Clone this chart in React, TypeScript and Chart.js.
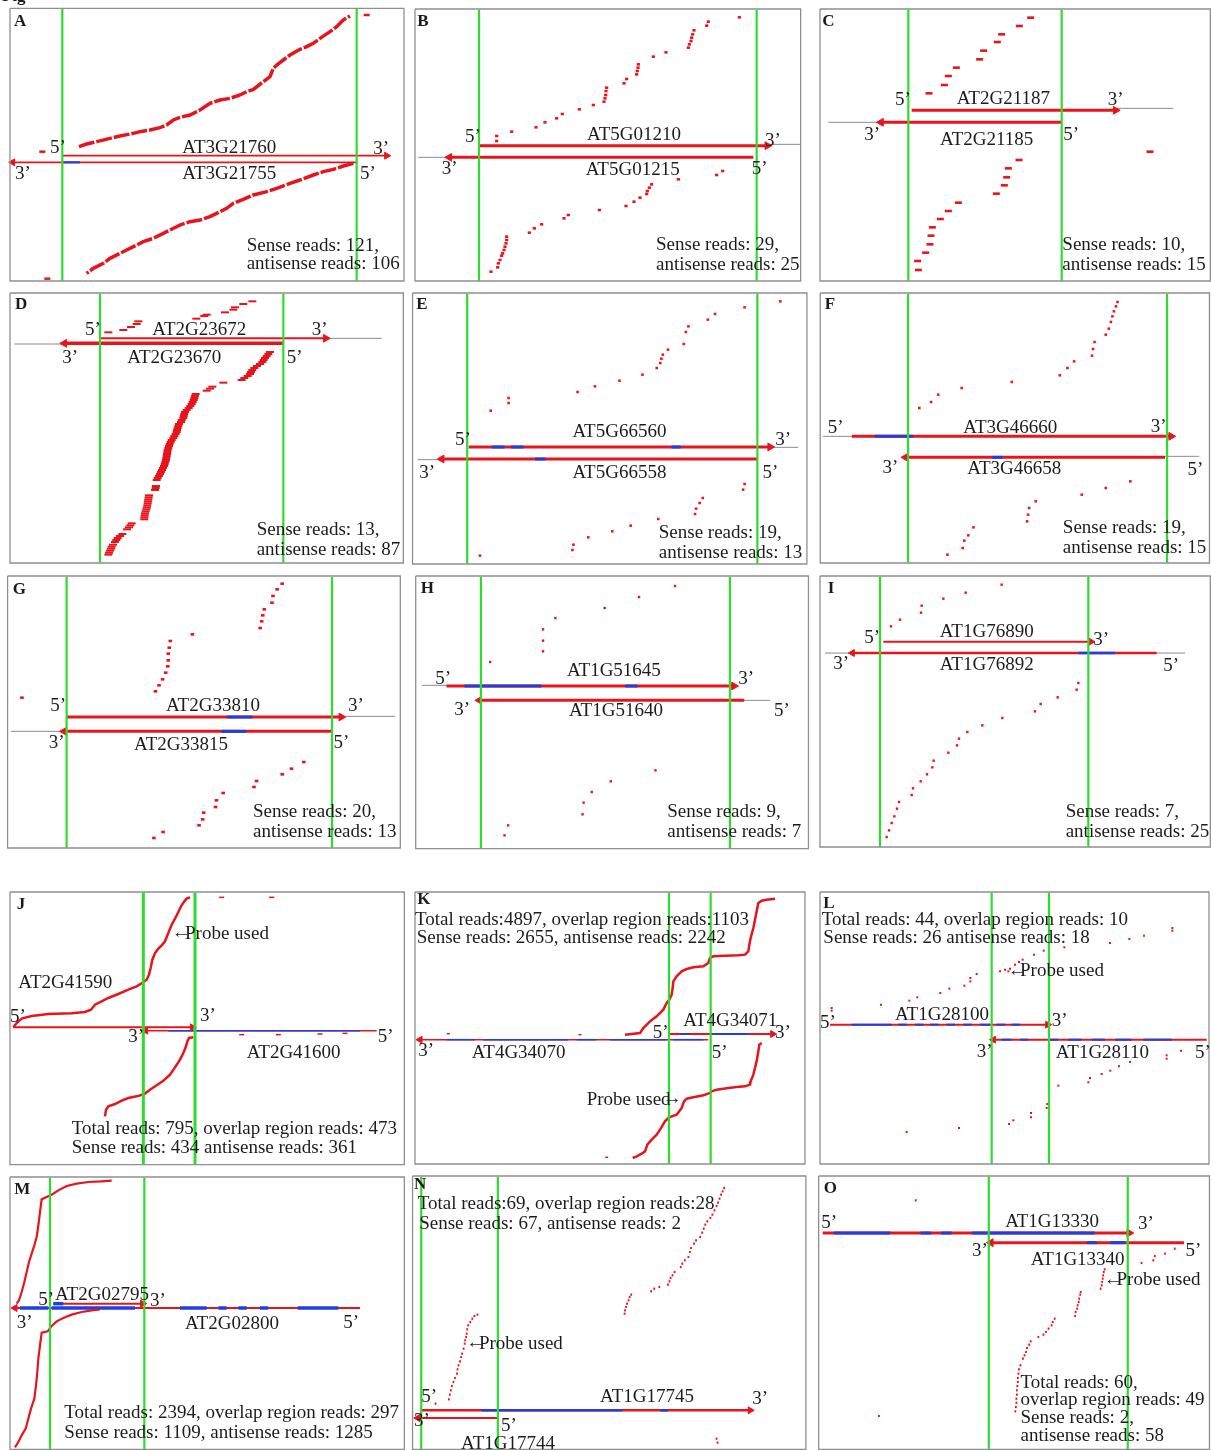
import React, { useEffect, useRef } from 'react';
import { Chart, registerables } from 'chart.js';
Chart.register(...registerables);

type P = { x: number; y: number };
type Gene = { name: string; start: number; end: number; track: number; blue: number[][] };
type Label = { t: string; x: number; y: number; align?: CanvasTextAlign; bold?: boolean; size?: number };

const RED = '#e8141c';
const BLUE = '#1f3fe0';
const GREEN = '#2edc2e';
const GRAY = '#8c8c8c';
const FRAME = '#8f8f8f';
const INK = '#1c1c1c';
const FS = 19;

// ---------------- DATA (read positions: x = relative genomic position, y = read rank) ----------------
const A_SENSE: P[] = [{x:237,y:440},{x:260,y:432},{x:290,y:425},{x:330,y:415},{x:360,y:408},{x:400,y:400},{x:420,y:395},{x:450,y:390},{x:480,y:383},{x:500,y:375},{x:520,y:360},{x:540,y:352},{x:570,y:345},{x:600,y:330},{x:630,y:310},{x:660,y:300},{x:690,y:295},{x:720,y:285},{x:740,y:275},{x:760,y:268},{x:790,y:245},{x:810,y:230},{x:820,y:205},{x:830,y:195},{x:850,y:180},{x:870,y:165},{x:900,y:148},{x:920,y:140},{x:940,y:130},{x:960,y:115},{x:990,y:95},{x:1010,y:80},{x:1030,y:60},{x:1050,y:48}];
const A_ANTISENSE: P[] = [{x:1060,y:490},{x:1030,y:498},{x:1000,y:508},{x:970,y:515},{x:940,y:525},{x:900,y:540},{x:870,y:550},{x:830,y:565},{x:800,y:575},{x:760,y:585},{x:730,y:598},{x:700,y:610},{x:680,y:625},{x:650,y:640},{x:630,y:650},{x:600,y:660},{x:570,y:665},{x:540,y:675},{x:510,y:690},{x:490,y:700},{x:460,y:715},{x:430,y:725},{x:400,y:740},{x:380,y:750},{x:360,y:760},{x:330,y:775},{x:310,y:790},{x:280,y:805},{x:260,y:820}];
const A_SINGLE: P[] = [{x:127,y:455},{x:1100,y:45},{x:142,y:836}];
const A_GENES: Gene[] = [
  { name: 'AT3G21760', start: 187, end: 1160, track: 467, blue: [] },
  { name: 'AT3G21755', start: 1070, end: 38, track: 487, blue: [[190, 240]] },
];
const A_OVERLAP = [187, 1070];

const B_SENSE: P[] = [{x:260,y:393},{x:260,y:408},{x:305,y:380},{x:378,y:367},{x:405,y:352},{x:440,y:340},{x:457,y:327},{x:508,y:313},{x:550,y:300},{x:582,y:290},{x:585,y:280},{x:587,y:270},{x:588,y:258},{x:590,y:248},{x:642,y:235},{x:650,y:222},{x:680,y:208},{x:682,y:198},{x:684,y:188},{x:685,y:178},{x:730,y:155},{x:768,y:142},{x:835,y:128},{x:838,y:118},{x:843,y:108},{x:845,y:98},{x:848,y:88},{x:852,y:76},{x:890,y:62},{x:895,y:50},{x:988,y:37}];
const B_ANTISENSE: P[] = [{x:920,y:510},{x:938,y:498},{x:805,y:523},{x:725,y:538},{x:718,y:548},{x:712,y:558},{x:710,y:567},{x:690,y:578},{x:672,y:590},{x:648,y:603},{x:568,y:615},{x:475,y:630},{x:462,y:640},{x:395,y:658},{x:373,y:670},{x:358,y:683},{x:290,y:695},{x:290,y:705},{x:288,y:715},{x:285,y:725},{x:282,y:735},{x:278,y:745},{x:275,y:752},{x:270,y:765},{x:265,y:775},{x:263,y:787},{x:243,y:800}];
const B_GENES: Gene[] = [
  { name: 'AT5G01210', start: 207, end: 1072, track: 422, blue: [] },
  { name: 'AT5G01215', start: 1030, end: 118, track: 457, blue: [] },
];
const B_OVERLAP = [207, 1040];

const C_SENSE: P[] = [{x:342,y:265},{x:388,y:240},{x:400,y:213},{x:424,y:188},{x:494,y:163},{x:506,y:137},{x:547,y:111},{x:560,y:88},{x:613,y:63},{x:647,y:38}];
const C_ANTISENSE: P[] = [{x:612,y:465},{x:580,y:490},{x:575,y:517},{x:568,y:541},{x:544,y:566},{x:430,y:593},{x:400,y:618},{x:376,y:642},{x:352,y:667},{x:348,y:692},{x:345,y:718},{x:332,y:743},{x:308,y:768},{x:310,y:795},{x:1005,y:440}];
const C_GENES: Gene[] = [
  { name: 'AT2G21187', start: 290, end: 902, track: 316, blue: [] },
  { name: 'AT2G21185', start: 740, end: 198, track: 352, blue: [] },
];
const C_OVERLAP = [280, 740];

const D_SENSE: P[] = [{x:310,y:133},{x:355,y:126},{x:378,y:117},{x:395,y:108},{x:400,y:100},{x:574,y:92},{x:598,y:84},{x:605,y:80},{x:660,y:73},{x:685,y:65},{x:690,y:58},{x:715,y:48},{x:742,y:40}];
const D_ANTISENSE: P[] = [{x:795,y:192},{x:790,y:198},{x:785,y:204},{x:780,y:210},{x:776,y:216},{x:772,y:222},{x:765,y:228},{x:756,y:234},{x:748,y:240},{x:742,y:246},{x:738,y:252},{x:735,y:258},{x:728,y:264},{x:718,y:270},{x:710,y:276},{x:655,y:284},{x:622,y:296},{x:615,y:302},{x:605,y:308},{x:572,y:318},{x:570,y:324},{x:568,y:330},{x:566,y:336},{x:563,y:342},{x:560,y:348},{x:556,y:354},{x:551,y:360},{x:545,y:366},{x:540,y:372},{x:538,y:378},{x:536,y:384},{x:535,y:390},{x:530,y:396},{x:528,y:402},{x:522,y:408},{x:520,y:414},{x:518,y:420},{x:516,y:426},{x:515,y:432},{x:512,y:438},{x:508,y:444},{x:505,y:450},{x:500,y:456},{x:497,y:462},{x:494,y:468},{x:492,y:474},{x:490,y:480},{x:488,y:486},{x:487,y:492},{x:486,y:498},{x:485,y:504},{x:484,y:510},{x:483,y:516},{x:481,y:522},{x:479,y:528},{x:477,y:534},{x:474,y:540},{x:471,y:546},{x:468,y:552},{x:465,y:558},{x:462,y:564},{x:458,y:570},{x:455,y:576},{x:453,y:594},{x:452,y:600},{x:450,y:606},{x:432,y:622},{x:431,y:628},{x:430,y:634},{x:429,y:640},{x:428,y:646},{x:427,y:652},{x:426,y:658},{x:424,y:664},{x:422,y:670},{x:420,y:676},{x:419,y:682},{x:418,y:688},{x:418,y:694},{x:380,y:706},{x:376,y:712},{x:372,y:718},{x:366,y:724},{x:352,y:738},{x:345,y:744},{x:338,y:750},{x:334,y:756},{x:330,y:762},{x:324,y:770},{x:320,y:776},{x:318,y:782},{x:315,y:788},{x:312,y:794},{x:310,y:800}];
const D_GENES: Gene[] = [
  { name: 'AT2G23672', start: 285, end: 962, track: 151, blue: [] },
  { name: 'AT2G23670', start: 835, end: 178, track: 166, blue: [] },
];
const D_OVERLAP = [285, 835];

const E_SENSE: P[] = [{x:158,y:368},{x:193,y:345},{x:193,y:330},{x:328,y:312},{x:362,y:295},{x:410,y:278},{x:455,y:260},{x:483,y:240},{x:490,y:225},{x:492,y:212},{x:495,y:200},{x:505,y:185},{x:536,y:168},{x:540,y:132},{x:545,y:115},{x:583,y:95},{x:597,y:78},{x:655,y:58},{x:725,y:40}];
const E_ANTISENSE: P[] = [{x:137,y:803},{x:318,y:786},{x:320,y:770},{x:349,y:748},{x:396,y:730},{x:432,y:713},{x:486,y:693},{x:558,y:678},{x:560,y:662},{x:567,y:645},{x:573,y:630},{x:652,y:605},{x:655,y:588}];
const E_GENES: Gene[] = [
  { name: 'AT5G66560', start: 115, end: 705, track: 477, blue: [[160, 185], [198, 222], [512, 530]] },
  { name: 'AT5G66558', start: 680, end: 62, track: 513, blue: [[245, 265]] },
];
const E_OVERLAP = [112, 680];

const F_SENSE: P[] = [{x:997,y:360},{x:1020,y:342},{x:1034,y:320},{x:1080,y:300},{x:1178,y:282},{x:1272,y:262},{x:1287,y:240},{x:1300,y:220},{x:1335,y:203},{x:1337,y:183},{x:1340,y:162},{x:1362,y:140},{x:1368,y:122},{x:1372,y:102},{x:1375,y:85},{x:1378,y:70},{x:1382,y:55},{x:1385,y:42}];
const F_ANTISENSE: P[] = [{x:1052,y:800},{x:1082,y:780},{x:1085,y:758},{x:1093,y:742},{x:1103,y:718},{x:1208,y:700},{x:1210,y:680},{x:1212,y:660},{x:1225,y:640},{x:1315,y:620},{x:1362,y:600},{x:1410,y:580}];
const F_GENES: Gene[] = [
  { name: 'AT3G46660', start: 865, end: 1490, track: 445, blue: [[910, 985]] },
  { name: 'AT3G46658', start: 1478, end: 970, track: 508, blue: [[1140, 1160]] },
];
const F_OVERLAP = [975, 1482];

const G_SENSE: P[] = [{x:33,y:377},{x:293,y:358},{x:300,y:340},{x:307,y:322},{x:313,y:302},{x:317,y:283},{x:318,y:265},{x:318,y:245},{x:320,y:227},{x:322,y:207},{x:365,y:187},{x:497,y:168},{x:500,y:148},{x:502,y:130},{x:505,y:112},{x:520,y:92},{x:522,y:72},{x:530,y:52},{x:540,y:35}];
const G_ANTISENSE: P[] = [{x:290,y:798},{x:308,y:780},{x:378,y:760},{x:385,y:742},{x:387,y:722},{x:410,y:705},{x:412,y:685},{x:425,y:663},{x:485,y:645},{x:490,y:627},{x:540,y:607},{x:558,y:590},{x:582,y:570}];
const G_GENES: Gene[] = [
  { name: 'AT2G33810', start: 120, end: 655, track: 435, blue: [[432, 482]] },
  { name: 'AT2G33815', start: 637, end: 115, track: 478, blue: [[422, 470]] },
];
const G_OVERLAP = [120, 637];

const H_SENSE: P[] = [{x:945,y:270},{x:1048,y:238},{x:1048,y:206},{x:1048,y:172},{x:1072,y:138},{x:1168,y:108},{x:1235,y:75},{x:1305,y:42}];
const H_ANTISENSE: P[] = [{x:973,y:790},{x:980,y:760},{x:1125,y:727},{x:1127,y:692},{x:1143,y:660},{x:1180,y:628},{x:1267,y:595}];
const H_GENES: Gene[] = [
  { name: 'AT1G51645', start: 860, end: 1420, track: 342, blue: [[895, 1045], [1208, 1232]] },
  { name: 'AT1G51640', start: 1440, end: 924, track: 385, blue: [] },
];
const H_OVERLAP = [927, 1412];

const I_SENSE: P[] = [{x:228,y:163},{x:255,y:143},{x:318,y:122},{x:320,y:101},{x:385,y:80},{x:452,y:62},{x:560,y:38}];
const I_ANTISENSE: P[] = [{x:790,y:333},{x:785,y:353},{x:728,y:376},{x:677,y:396},{x:660,y:418},{x:562,y:438},{x:502,y:460},{x:457,y:480},{x:432,y:500},{x:426,y:520},{x:400,y:542},{x:356,y:566},{x:352,y:586},{x:336,y:607},{x:317,y:628},{x:294,y:649},{x:290,y:669},{x:252,y:690},{x:246,y:710},{x:238,y:733},{x:230,y:753},{x:222,y:775},{x:215,y:795}];
const I_GENES: Gene[] = [
  { name: 'AT1G76890', start: 205, end: 828, track: 209, blue: [] },
  { name: 'AT1G76892', start: 1025, end: 112, track: 243, blue: [[790, 900]] },
];
const I_OVERLAP = [195, 820];

const J_SENSE: P[] = [{x:25,y:418},{x:35,y:405},{x:50,y:392},{x:80,y:384},{x:130,y:378},{x:200,y:376},{x:240,y:372},{x:258,y:365},{x:270,y:350},{x:290,y:340},{x:310,y:330},{x:340,y:318},{x:370,y:305},{x:395,y:295},{x:415,y:283},{x:425,y:275},{x:432,y:260},{x:437,y:240},{x:442,y:215},{x:450,y:195},{x:460,y:182},{x:470,y:172},{x:480,y:160},{x:490,y:135},{x:500,y:110},{x:510,y:92},{x:520,y:72},{x:528,y:55},{x:538,y:40},{x:545,y:32},{x:555,y:28}];
const J_ANTISENSE: P[] = [{x:565,y:448},{x:552,y:450},{x:547,y:460},{x:542,y:478},{x:535,y:495},{x:525,y:515},{x:512,y:535},{x:495,y:560},{x:475,y:578},{x:455,y:592},{x:435,y:605},{x:418,y:618},{x:395,y:625},{x:370,y:630},{x:350,y:638},{x:330,y:648},{x:310,y:655},{x:303,y:665},{x:300,y:685}];
const J_SINGLE: P[] = [{x:650,y:28},{x:800,y:28},{x:710,y:440},{x:820,y:440},{x:945,y:438},{x:1020,y:436}];
const J_GENES: Gene[] = [
  { name: 'AT2G41590', start: 25, end: 562, track: 418, blue: [] },
  { name: 'AT2G41600', start: 1115, end: 422, track: 428, blue: [[490, 1065]] },
];
const J_OVERLAP = [415, 570];

const K_SENSE: P[] = [{x:645,y:440},{x:690,y:435},{x:700,y:420},{x:720,y:400},{x:740,y:385},{x:760,y:365},{x:770,y:345},{x:778,y:335},{x:785,y:320},{x:788,y:300},{x:790,y:280},{x:800,y:265},{x:815,y:250},{x:830,y:243},{x:850,y:238},{x:880,y:235},{x:895,y:225},{x:900,y:210},{x:910,y:205},{x:945,y:203},{x:985,y:202},{x:1005,y:200},{x:1015,y:190},{x:1018,y:170},{x:1022,y:150},{x:1030,y:120},{x:1035,y:95},{x:1040,y:70},{x:1045,y:45},{x:1055,y:38},{x:1070,y:35},{x:1095,y:32}];
const K_ANTISENSE: P[] = [{x:1055,y:465},{x:1048,y:470},{x:1045,y:490},{x:1040,y:520},{x:1030,y:560},{x:1022,y:580},{x:1020,y:590},{x:1005,y:595},{x:980,y:597},{x:955,y:600},{x:920,y:605},{x:905,y:610},{x:900,y:615},{x:880,y:622},{x:850,y:628},{x:830,y:632},{x:822,y:640},{x:815,y:660},{x:800,y:680},{x:785,y:685},{x:775,y:690},{x:765,y:700},{x:750,y:725},{x:740,y:740},{x:725,y:755},{x:712,y:770},{x:705,y:790},{x:695,y:797},{x:680,y:805},{x:668,y:810}];
const K_SINGLE: P[] = [{x:115,y:437},{x:510,y:440},{x:590,y:808}];
const K_GENES: Gene[] = [
  { name: 'AT4G34071', start: 780, end: 1088, track: 438, blue: [[810, 840], [905, 1015]] },
  { name: 'AT4G34070', start: 895, end: 30, track: 455, blue: [[110, 195], [220, 475], [500, 560], [600, 770], [790, 880]] },
];
const K_OVERLAP = [777, 902];

const L_SENSE: P[] = [{x:50,y:368},{x:198,y:350},{x:283,y:338},{x:307,y:328},{x:376,y:315},{x:403,y:302},{x:448,y:293},{x:466,y:280},{x:466,y:270},{x:485,y:258},{x:555,y:250},{x:570,y:245},{x:585,y:242},{x:600,y:230},{x:612,y:222},{x:623,y:215},{x:657,y:200},{x:686,y:188},{x:748,y:178},{x:885,y:165},{x:943,y:153},{x:987,y:143},{x:1072,y:128},{x:1072,y:120},{x:580,y:250},{x:50,y:360}];
const L_ANTISENSE: P[] = [{x:1098,y:488},{x:1055,y:502},{x:1055,y:512},{x:945,y:522},{x:912,y:535},{x:886,y:548},{x:860,y:558},{x:825,y:570},{x:820,y:583},{x:730,y:593},{x:697,y:648},{x:695,y:660},{x:648,y:675},{x:648,y:688},{x:595,y:697},{x:582,y:708},{x:432,y:720},{x:275,y:732}];
const L_GENES: Gene[] = [
  { name: 'AT1G28100', start: 45, end: 698, track: 410, blue: [[110, 230], [250, 275], [300, 325], [345, 370], [395, 420], [445, 470], [495, 525], [545, 570], [590, 615]] },
  { name: 'AT1G28110', start: 1175, end: 535, track: 455, blue: [[560, 590], [615, 640], [700, 730], [760, 800], [830, 870], [900, 950], [985, 1070]] },
];
const L_OVERLAP = [530, 702];

const M_SENSE: P[] = [{x:35,y:395},{x:42,y:385},{x:50,y:360},{x:58,y:330},{x:65,y:300},{x:72,y:270},{x:80,y:245},{x:88,y:220},{x:95,y:195},{x:100,y:160},{x:105,y:120},{x:110,y:82},{x:125,y:75},{x:140,y:68},{x:160,y:55},{x:185,y:42},{x:215,y:35},{x:250,y:30},{x:290,y:28},{x:320,y:26}];
const M_ANTISENSE: P[] = [{x:30,y:826},{x:40,y:810},{x:50,y:790},{x:62,y:770},{x:70,y:740},{x:78,y:710},{x:88,y:680},{x:93,y:640},{x:97,y:600},{x:100,y:560},{x:105,y:520},{x:110,y:482},{x:128,y:478},{x:140,y:462},{x:155,y:448},{x:175,y:438},{x:200,y:428},{x:230,y:420},{x:260,y:415},{x:285,y:412}];
const M_GENES: Gene[] = [
  { name: 'AT2G02795', start: 145, end: 413, track: 395, blue: [[145, 175]] },
  { name: 'AT2G02800', start: 1065, end: 30, track: 408, blue: [[45, 130], [140, 390], [525, 605], [640, 665], [700, 725], [765, 790], [878, 1000]] },
];
const M_OVERLAP = [135, 418];

const N_SENSE: P[] = [{x:420,y:425},{x:421,y:415},{x:423,y:405},{x:425,y:395},{x:428,y:385},{x:430,y:375},{x:433,y:368},{x:472,y:358},{x:478,y:350},{x:488,y:345},{x:505,y:338},{x:508,y:328},{x:510,y:318},{x:514,y:310},{x:518,y:300},{x:530,y:285},{x:533,y:275},{x:538,y:265},{x:545,y:255},{x:548,y:240},{x:550,y:228},{x:556,y:215},{x:560,y:205},{x:568,y:195},{x:572,y:182},{x:575,y:170},{x:578,y:158},{x:582,y:148},{x:588,y:138},{x:592,y:128},{x:596,y:115},{x:600,y:102},{x:603,y:92},{x:606,y:80},{x:609,y:68},{x:612,y:58},{x:615,y:48},{x:50,y:695},{x:76,y:682},{x:78,y:668},{x:80,y:655},{x:82,y:642},{x:85,y:630},{x:88,y:618},{x:92,y:605},{x:93,y:592},{x:95,y:580},{x:98,y:568},{x:100,y:555},{x:102,y:545},{x:105,y:530},{x:107,y:515},{x:108,y:505},{x:110,y:495},{x:111,y:485},{x:112,y:472},{x:114,y:460},{x:118,y:450},{x:122,y:440},{x:126,y:432},{x:132,y:428}];
const N_ANTISENSE: P[] = [{x:600,y:800},{x:602,y:812}];
const N_GENES: Gene[] = [
  { name: 'AT1G17745', start: 22, end: 666, track: 715, blue: [[140, 415], [490, 505]] },
  { name: 'AT1G17744', start: 172, end: 15, track: 738, blue: [] },
];
const N_OVERLAP = [22, 172];

const O_SENSE: P[] = [{x:990,y:85},{x:918,y:732}];
const O_ANTISENSE: P[] = [{x:1185,y:718},{x:1186,y:705},{x:1187,y:692},{x:1187,y:680},{x:1188,y:668},{x:1188,y:655},{x:1189,y:642},{x:1190,y:630},{x:1190,y:618},{x:1191,y:605},{x:1192,y:592},{x:1195,y:580},{x:1200,y:560},{x:1203,y:550},{x:1206,y:540},{x:1208,y:528},{x:1212,y:518},{x:1215,y:508},{x:1230,y:495},{x:1240,y:488},{x:1245,y:480},{x:1250,y:470},{x:1256,y:460},{x:1258,y:450},{x:1262,y:440},{x:1302,y:432},{x:1303,y:420},{x:1306,y:410},{x:1307,y:400},{x:1309,y:390},{x:1310,y:380},{x:1312,y:368},{x:1313,y:360},{x:1352,y:350},{x:1354,y:340},{x:1355,y:330},{x:1356,y:320},{x:1357,y:310},{x:1358,y:300},{x:1360,y:292},{x:1432,y:273},{x:1455,y:265},{x:1458,y:252},{x:1478,y:245},{x:1497,y:230}];
const O_GENES: Gene[] = [
  { name: 'AT1G13330', start: 808, end: 1408, track: 183, blue: [[830, 940], [1000, 1020], [1040, 1060], [1100, 1340]] },
  { name: 'AT1G13340', start: 1515, end: 1137, track: 212, blue: [[1325, 1345], [1370, 1400]] },
];
const O_OVERLAP = [1133, 1405];

// ---------------- LAYOUT ----------------
type ReadSet = { pts: P[]; curve?: boolean };
type Panel = {
  frame: [number, number, number, number];
  overlap: number[];
  genes: Gene[];
  geneW: number[];
  blueW?: number;
  arrow: number;
  flanks: number[][];
  reads: ReadSet[];
  dotR: number;
  dotH: number;
  curveW?: number;
  curveDash?: number[];
  greenW?: number;
  labels: Label[];
};
type Sheet = { left: number; top: number; w: number; h: number; dw: number; dh: number; panels: Panel[] };

const L = (t: string, x: number, y: number, align: CanvasTextAlign = 'left', bold = false, size = FS): Label => ({ t, x, y, align, bold, size });
const TAG = (t: string, x: number, y: number): Label => ({ t, x, y, align: 'left', bold: true, size: 17 });
const Q5 = '5\u2019';
const Q3 = '3\u2019';

const SHEETS: Sheet[] = [
  { left: 0, top: 0, w: 410, h: 285, dw: 1230, dh: 855, panels: [{
    frame: [30, 25, 1212, 843], overlap: A_OVERLAP, genes: A_GENES, geneW: [1.6, 1.6], blueW: 2.2, arrow: 4,
    flanks: [], reads: [{ pts: A_SENSE, curve: true }, { pts: A_ANTISENSE, curve: true }, { pts: A_SINGLE }],
    dotR: 3, dotH: 2.5, curveW: 3.5, curveDash: [16, 2],
    labels: [L('Fig', 6, 2, 'left', true, 17), TAG('A', 42, 78), L(Q5, 150, 460), L(A_GENES[0].name, 688, 460, 'center'), L(Q3, 1120, 462),
      L(Q3, 45, 537), L(A_GENES[1].name, 688, 537, 'center'), L(Q5, 1080, 537), L('Sense reads: 121,', 740, 752), L('antisense reads: 106', 740, 808)],
  }] },
  { left: 410, top: 5, w: 400, h: 280, dw: 1200, dh: 840, panels: [{
    frame: [15, 12, 1172, 828], overlap: B_OVERLAP, genes: B_GENES, geneW: [3, 3], arrow: 4.5,
    flanks: [[1075, 1170, 418], [25, 120, 457]], reads: [{ pts: B_SENSE }, { pts: B_ANTISENSE }], dotR: 1.6, dotH: 2.6,
    labels: [TAG('B', 22, 62), L(Q5, 165, 410), L(B_GENES[0].name, 672, 405, 'center'), L(Q3, 1065, 422),
      L(Q3, 95, 507), L(B_GENES[1].name, 668, 510, 'center'), L(Q5, 1025, 507), L('Sense reads: 29,', 738, 735), L('antisense reads: 25', 738, 795)],
  }] },
  { left: 815, top: 5, w: 396, h: 280, dw: 1188, dh: 840, panels: [{
    frame: [15, 12, 1186, 828], overlap: C_OVERLAP, genes: C_GENES, geneW: [3, 3], arrow: 4.5,
    flanks: [[905, 1075, 310], [40, 200, 352]], reads: [{ pts: C_SENSE }, { pts: C_ANTISENSE }], dotR: 3.5, dotH: 2.6,
    labels: [TAG('C', 22, 62), L(Q5, 240, 300), L(C_GENES[0].name, 565, 298, 'center'), L(Q3, 878, 300),
      L(Q3, 148, 405), L(C_GENES[1].name, 515, 420, 'center'), L(Q5, 745, 405), L('Sense reads: 10,', 742, 735), L('antisense reads: 15', 742, 795)],
  }] },
  { left: 5, top: 288, w: 405, h: 280, dw: 1215, dh: 840, panels: [{
    frame: [15, 15, 1195, 825], overlap: D_OVERLAP, genes: D_GENES, geneW: [2, 3.5], arrow: 4.5,
    flanks: [[960, 1130, 151], [28, 180, 168]], reads: [{ pts: D_SENSE }, { pts: D_ANTISENSE }], dotR: 4, dotH: 2,
    labels: [TAG('D', 30, 62), L(Q5, 240, 140), L(D_GENES[0].name, 583, 140, 'center'), L(Q3, 920, 140),
      L(Q3, 172, 225), L(D_GENES[1].name, 508, 225, 'center'), L(Q5, 845, 225), L('Sense reads: 13,', 755, 740), L('antisense reads: 87', 755, 800)],
  }] },
  { left: 410, top: 288, w: 801, h: 280, dw: 1568, dh: 840, panels: [{
    frame: [5, 15, 777, 828], overlap: E_OVERLAP, genes: E_GENES, geneW: [3, 3], arrow: 4.5,
    flanks: [[705, 760, 478], [15, 65, 515]], reads: [{ pts: E_SENSE }, { pts: E_ANTISENSE }], dotR: 1.3, dotH: 2.5,
    labels: [TAG('E', 12, 62), L(E_GENES[0].name, 410, 447, 'center'), L(Q5, 88, 472), L(Q3, 715, 470),
      L(Q3, 18, 570), L(E_GENES[1].name, 410, 570, 'center'), L(Q5, 690, 570), L('Sense reads: 19,', 487, 750), L('antisense reads: 13', 487, 810)],
  }, {
    frame: [803, 15, 1565, 825], overlap: F_OVERLAP, genes: F_GENES, geneW: [3, 3], arrow: 4.5,
    flanks: [[808, 870, 445], [1478, 1545, 505]], reads: [{ pts: F_SENSE }, { pts: F_ANTISENSE }], dotR: 1.3, dotH: 2.5,
    labels: [TAG('F', 812, 62), L(Q5, 818, 435), L(F_GENES[0].name, 1175, 435, 'center'), L(Q3, 1450, 432),
      L(Q3, 925, 555), L(F_GENES[1].name, 1183, 557, 'center'), L(Q5, 1522, 562), L('Sense reads: 19,', 1278, 735), L('antisense reads: 15', 1278, 795)],
  }] },
  { left: 5, top: 572, w: 805, h: 280, dw: 1568, dh: 840, panels: [{
    frame: [5, 12, 770, 828], overlap: G_OVERLAP, genes: G_GENES, geneW: [3, 3], arrow: 4.5,
    flanks: [[658, 760, 433], [12, 118, 478]], reads: [{ pts: G_SENSE }, { pts: G_ANTISENSE }], dotR: 1.8, dotH: 2.6,
    labels: [TAG('G', 15, 65), L(Q5, 88, 418), L(G_GENES[0].name, 405, 418, 'center'), L(Q3, 668, 418),
      L(Q3, 85, 528), L(G_GENES[1].name, 343, 535, 'center'), L(Q5, 640, 528), L('Sense reads: 20,', 483, 735), L('antisense reads: 13', 483, 795)],
  }, {
    frame: [800, 12, 1565, 830], overlap: H_OVERLAP, genes: H_GENES, geneW: [3, 3], arrow: 4.5,
    flanks: [[812, 862, 340], [1440, 1490, 385]], reads: [{ pts: H_SENSE }, { pts: H_ANTISENSE }], dotR: 1.2, dotH: 2.4,
    labels: [TAG('H', 810, 62), L(Q5, 838, 335), L(H_GENES[0].name, 1186, 312, 'center'), L(Q3, 1428, 335),
      L(Q3, 875, 430), L(H_GENES[1].name, 1190, 432, 'center'), L(Q5, 1498, 432), L('Sense reads: 9,', 1290, 735), L('antisense reads: 7', 1290, 795)],
  }] },
  { left: 815, top: 572, w: 396, h: 280, dw: 1188, dh: 840, panels: [{
    frame: [15, 12, 1186, 825], overlap: I_OVERLAP, genes: I_GENES, geneW: [2, 2.5], arrow: 4,
    flanks: [[30, 1110, 243]], reads: [{ pts: I_SENSE }, { pts: I_ANTISENSE }], dotR: 1.2, dotH: 2.4,
    labels: [TAG('I', 38, 62), L(Q5, 148, 212), L(I_GENES[0].name, 515, 195, 'center'), L(Q3, 835, 218),
      L(Q3, 55, 292), L(I_GENES[1].name, 515, 295, 'center'), L(Q5, 1045, 297), L('Sense reads: 7,', 752, 735), L('antisense reads: 25', 752, 795)],
  }] },
  { left: 5, top: 888, w: 405, h: 282, dw: 1215, dh: 846, panels: [{
    frame: [15, 12, 1198, 830], overlap: J_OVERLAP, genes: J_GENES, geneW: [2, 1.5], blueW: 1.5, arrow: 4,
    flanks: [], reads: [{ pts: J_SENSE, curve: true }, { pts: J_ANTISENSE, curve: true }, { pts: J_SINGLE }],
    dotR: 2.5, dotH: 1.5, curveW: 2.5, greenW: 3,
    labels: [TAG('J', 35, 62), L('\u2190', 500, 150, 'left', true), L('Probe used', 540, 152), L(J_GENES[0].name, 40, 300), L(Q5, 15, 402), L(Q3, 585, 400),
      L(Q3, 370, 462), L(J_GENES[1].name, 725, 510), L(Q5, 1118, 462),
      L('Total reads: 795, overlap region reads: 473', 200, 738), L('Sense reads: 434 antisense reads: 361', 200, 795)],
  }] },
  { left: 410, top: 888, w: 400, h: 282, dw: 1200, dh: 846, panels: [{
    frame: [15, 12, 1185, 828], overlap: K_OVERLAP, genes: K_GENES, geneW: [1.8, 1.5], arrow: 4,
    flanks: [], reads: [{ pts: K_SENSE, curve: true }, { pts: K_ANTISENSE, curve: true }, { pts: K_SINGLE }],
    dotR: 1.5, dotH: 1.5, curveW: 2.5,
    labels: [TAG('K', 22, 47), L('Total reads:4897, overlap region reads:1103', 15, 110), L('Sense reads: 2655, antisense reads: 2242', 20, 165),
      L(K_GENES[0].name, 820, 415), L(Q3, 1095, 450), L(Q5, 728, 450), L(Q3, 25, 505), L(K_GENES[1].name, 185, 510), L(Q5, 905, 510),
      L('Probe used', 530, 650), L('\u2192', 758, 648, 'left', true)],
  }] },
  { left: 815, top: 888, w: 396, h: 282, dw: 1188, dh: 846, panels: [{
    frame: [15, 12, 1182, 828], overlap: L_OVERLAP, genes: L_GENES, geneW: [2, 2], arrow: 4,
    flanks: [], reads: [{ pts: L_SENSE }, { pts: L_ANTISENSE }], dotR: 1, dotH: 2,
    labels: [TAG('L', 25, 60), L('Total reads: 44, overlap region reads: 10', 20, 110), L('Sense reads: 26 antisense reads: 18', 25, 165),
      L('\u2190', 578, 263, 'left', true), L('Probe used', 615, 265), L(Q5, 15, 420), L(L_GENES[0].name, 240, 395), L(Q3, 710, 415), L(Q3, 485, 508),
      L(L_GENES[1].name, 722, 510), L(Q5, 1140, 510)],
  }] },
  { left: 5, top: 1172, w: 405, h: 278, dw: 1215, dh: 834, panels: [{
    frame: [15, 15, 1198, 832], overlap: M_OVERLAP, genes: M_GENES, geneW: [2, 2], blueW: 3.5, arrow: 4,
    flanks: [], reads: [{ pts: M_SENSE, curve: true }, { pts: M_ANTISENSE, curve: true }], dotR: 1, dotH: 2, curveW: 2.2,
    labels: [TAG('M', 28, 65), L(Q5, 100, 398), L(M_GENES[0].name, 150, 385), L(Q3, 435, 402), L(Q3, 35, 468),
      L(M_GENES[1].name, 540, 472), L(Q5, 1015, 468),
      L('Total reads: 2394, overlap region reads: 297', 178, 738), L('Sense reads: 1109, antisense reads: 1285', 178, 798)],
  }] },
  { left: 410, top: 1172, w: 801, h: 278, dw: 1568, dh: 834, panels: [{
    frame: [5, 12, 775, 832], overlap: N_OVERLAP, genes: N_GENES, geneW: [2.5, 2], arrow: 4,
    flanks: [], reads: [{ pts: N_SENSE }, { pts: N_ANTISENSE }], dotR: 0.9, dotH: 2.2,
    labels: [TAG('N', 8, 52), L('Total reads:69, overlap region reads:28', 15, 112), L('Sense reads: 67, antisense reads: 2', 18, 170),
      L('\u2190', 110, 528, 'left', true), L('Probe used', 135, 530), L(Q5, 22, 690), L(N_GENES[0].name, 372, 690), L(Q3, 670, 695), L(Q3, 8, 762),
      L(Q5, 178, 778), L(N_GENES[1].name, 100, 832)],
  }, {
    frame: [800, 12, 1565, 832], overlap: O_OVERLAP, genes: O_GENES, geneW: [3, 3], arrow: 4.5,
    flanks: [], reads: [{ pts: O_SENSE }, { pts: O_ANTISENSE }], dotR: 0.9, dotH: 2.2,
    labels: [TAG('O', 810, 62), L(Q5, 805, 168), L(O_GENES[0].name, 1165, 165), L(Q3, 1425, 172), L(Q3, 1100, 252),
      L(O_GENES[1].name, 1215, 278), L(Q5, 1518, 252), L('\u2190', 1358, 338, 'left', true), L('Probe used', 1383, 340),
      L('Total reads: 60,', 1195, 648), L('overlap region reads: 49', 1195, 700), L('Sense reads: 2,', 1195, 752), L('antisense reads: 58', 1195, 808)],
  }] },
];

function seg(x0: number, x1: number, y: number, color: string, w: number, order: number, dash?: number[]) {
  return { data: [{ x: x0, y }, { x: x1, y }], showLine: true, borderColor: color, borderWidth: w, pointRadius: 0, order, borderDash: dash || [] };
}

function buildDatasets(p: Panel): any[] {
  const ds: any[] = [];
  const [l, t, r, b] = p.frame;
  ds.push({ data: [{ x: l, y: t }, { x: r, y: t }, { x: r, y: b }, { x: l, y: b }, { x: l, y: t }], showLine: true, borderColor: FRAME, borderWidth: 1.3, pointRadius: 0, order: 5 });
  for (const x of p.overlap) ds.push({ data: [{ x, y: t + 2 }, { x, y: b - 1 }], showLine: true, borderColor: GREEN, borderWidth: p.greenW ?? 2.2, pointRadius: 0, order: 10 });
  for (const f of p.flanks) ds.push(seg(f[0], f[1], f[2], GRAY, 1, 40));
  p.genes.forEach((g, i) => {
    const w = p.geneW[i];
    ds.push(seg(g.start, g.end, g.track, RED, w, 30));
    for (const s of g.blue) ds.push(seg(s[0], s[1], g.track, BLUE, p.blueW ?? w, 29));
    ds.push({ data: [{ x: g.end, y: g.track }], pointStyle: 'triangle', pointRotation: g.end > g.start ? 90 : -90, pointRadius: p.arrow,
      pointBackgroundColor: RED, pointBorderColor: RED, pointBorderWidth: 1, order: 28 });
  });
  for (const rd of p.reads) {
    if (rd.curve) ds.push({ data: rd.pts, showLine: true, borderColor: RED, borderWidth: p.curveW ?? 2.5, borderDash: p.curveDash || [], pointRadius: 0, order: 20, tension: 0 });
    else ds.push({ data: rd.pts, showLine: false, pointStyle: 'line', pointRadius: p.dotR, pointBorderWidth: p.dotH, pointBorderColor: RED, pointBackgroundColor: RED, order: 20 });
  }
  return ds;
}

function SheetChart({ sheet }: { sheet: Sheet }) {
  const ref = useRef<HTMLCanvasElement>(null);
  useEffect(() => {
    const labels = sheet.panels.flatMap((p) => p.labels);
    const textPlugin = {
      id: 'panelText',
      afterDatasetsDraw(chart: any) {
        const { ctx } = chart;
        const xs = chart.scales.x;
        const ys = chart.scales.y;
        ctx.save();
        ctx.fillStyle = INK;
        ctx.textBaseline = 'alphabetic';
        for (const lb of labels) {
          ctx.font = `${lb.bold ? 'bold ' : ''}${lb.size}px "Liberation Serif", "Times New Roman", serif`;
          ctx.textAlign = lb.align || 'left';
          ctx.fillText(lb.t, xs.getPixelForValue(lb.x), ys.getPixelForValue(lb.y));
        }
        ctx.restore();
      },
    };
    const chart = new Chart(ref.current as HTMLCanvasElement, {
      type: 'scatter',
      data: { datasets: sheet.panels.flatMap(buildDatasets) },
      options: {
        responsive: false,
        maintainAspectRatio: false,
        animation: false,
        events: [],
        layout: { padding: 0, autoPadding: false },
        scales: {
          x: { type: 'linear', min: 0, max: sheet.dw, display: false },
          y: { type: 'linear', min: 0, max: sheet.dh, reverse: true, display: false },
        },
        plugins: { legend: { display: false }, tooltip: { enabled: false } },
      } as any,
      plugins: [textPlugin],
    });
    return () => chart.destroy();
  }, [sheet]);
  return (
    <canvas ref={ref} width={sheet.w} height={sheet.h}
      style={{ position: 'absolute', left: sheet.left, top: sheet.top, width: sheet.w, height: sheet.h }} />
  );
}

export default function App() {
  return (
    <div style={{ position: 'absolute', left: 0, top: 0, width: 1211, height: 1450, background: '#fff', overflow: 'hidden' }}>
      {SHEETS.map((s, i) => <SheetChart key={i} sheet={s} />)}
    </div>
  );
}
